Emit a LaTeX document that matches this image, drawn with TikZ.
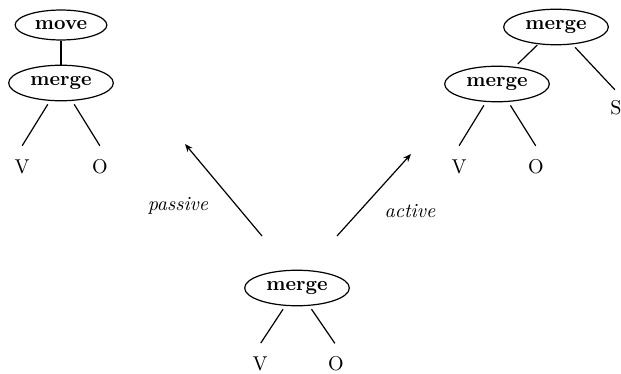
\documentclass[tikz,border=0pt]{standalone}
\usetikzlibrary{shapes.geometric,arrows.meta}
\begin{document}
\begin{tikzpicture}[x=0.5pt,y=-0.5pt,line width=0.6pt,
  op/.style={draw,ellipse,font=\bfseries,inner xsep=3.2pt,inner ysep=3pt},
  leaf/.style={inner sep=1pt},
  ledge/.style={shorten <=2pt,shorten >=12.5pt},
  move arrow/.style={-{Stealth[length=4pt,width=3.2pt]}}]
\useasboundingbox (0,0) rectangle (621,374);
% left tree
\node[op] (lmove) at (61,25) {move};
\node[op] (lmerge) at (61,83) {merge};
\node[leaf] (lv) at (22,167) {V};
\node[leaf] (lo) at (100,167) {O};
\draw (lmove) -- (lmerge);
\draw[ledge] (lmerge) -- ([xshift=-6.5pt]lv.center);
\draw[ledge] (lmerge) -- ([xshift=6.5pt]lo.center);
% right tree
\node[op] (rtop) at (556,27) {merge};
\node[op] (rmerge) at (497,84) {merge};
\node[leaf] (rs) at (616,108) {S};
\node[leaf] (rv) at (459,167) {V};
\node[leaf] (ro) at (536,167) {O};
\draw[shorten <=0.5pt,shorten >=2pt] (rtop) -- (rmerge);
\draw[ledge] (rtop) -- ([xshift=8pt]rs.center);
\draw[ledge] (rmerge) -- ([xshift=-6.5pt]rv.center);
\draw[ledge] (rmerge) -- ([xshift=6.5pt]ro.center);
% bottom tree
\node[op] (bmerge) at (297,288) {merge};
\node[leaf] (bv) at (260,364) {V};
\node[leaf] (bo) at (336,364) {O};
\draw[ledge] (bmerge) -- ([xshift=-6.5pt]bv.center);
\draw[ledge] (bmerge) -- ([xshift=6.5pt]bo.center);
% arrows
\coordinate (pstart) at (262,236);
\coordinate (pend) at (185,144);
\coordinate (astart) at (337,236);
\coordinate (aend) at (411,154);
\draw[move arrow] (pstart) -- (pend);
\draw[move arrow] (astart) -- (aend);
\node (plabel) at (178,206) {\textit{passive}};
\node (alabel) at (410,211) {\textit{active}};
\end{tikzpicture}
\end{document}
